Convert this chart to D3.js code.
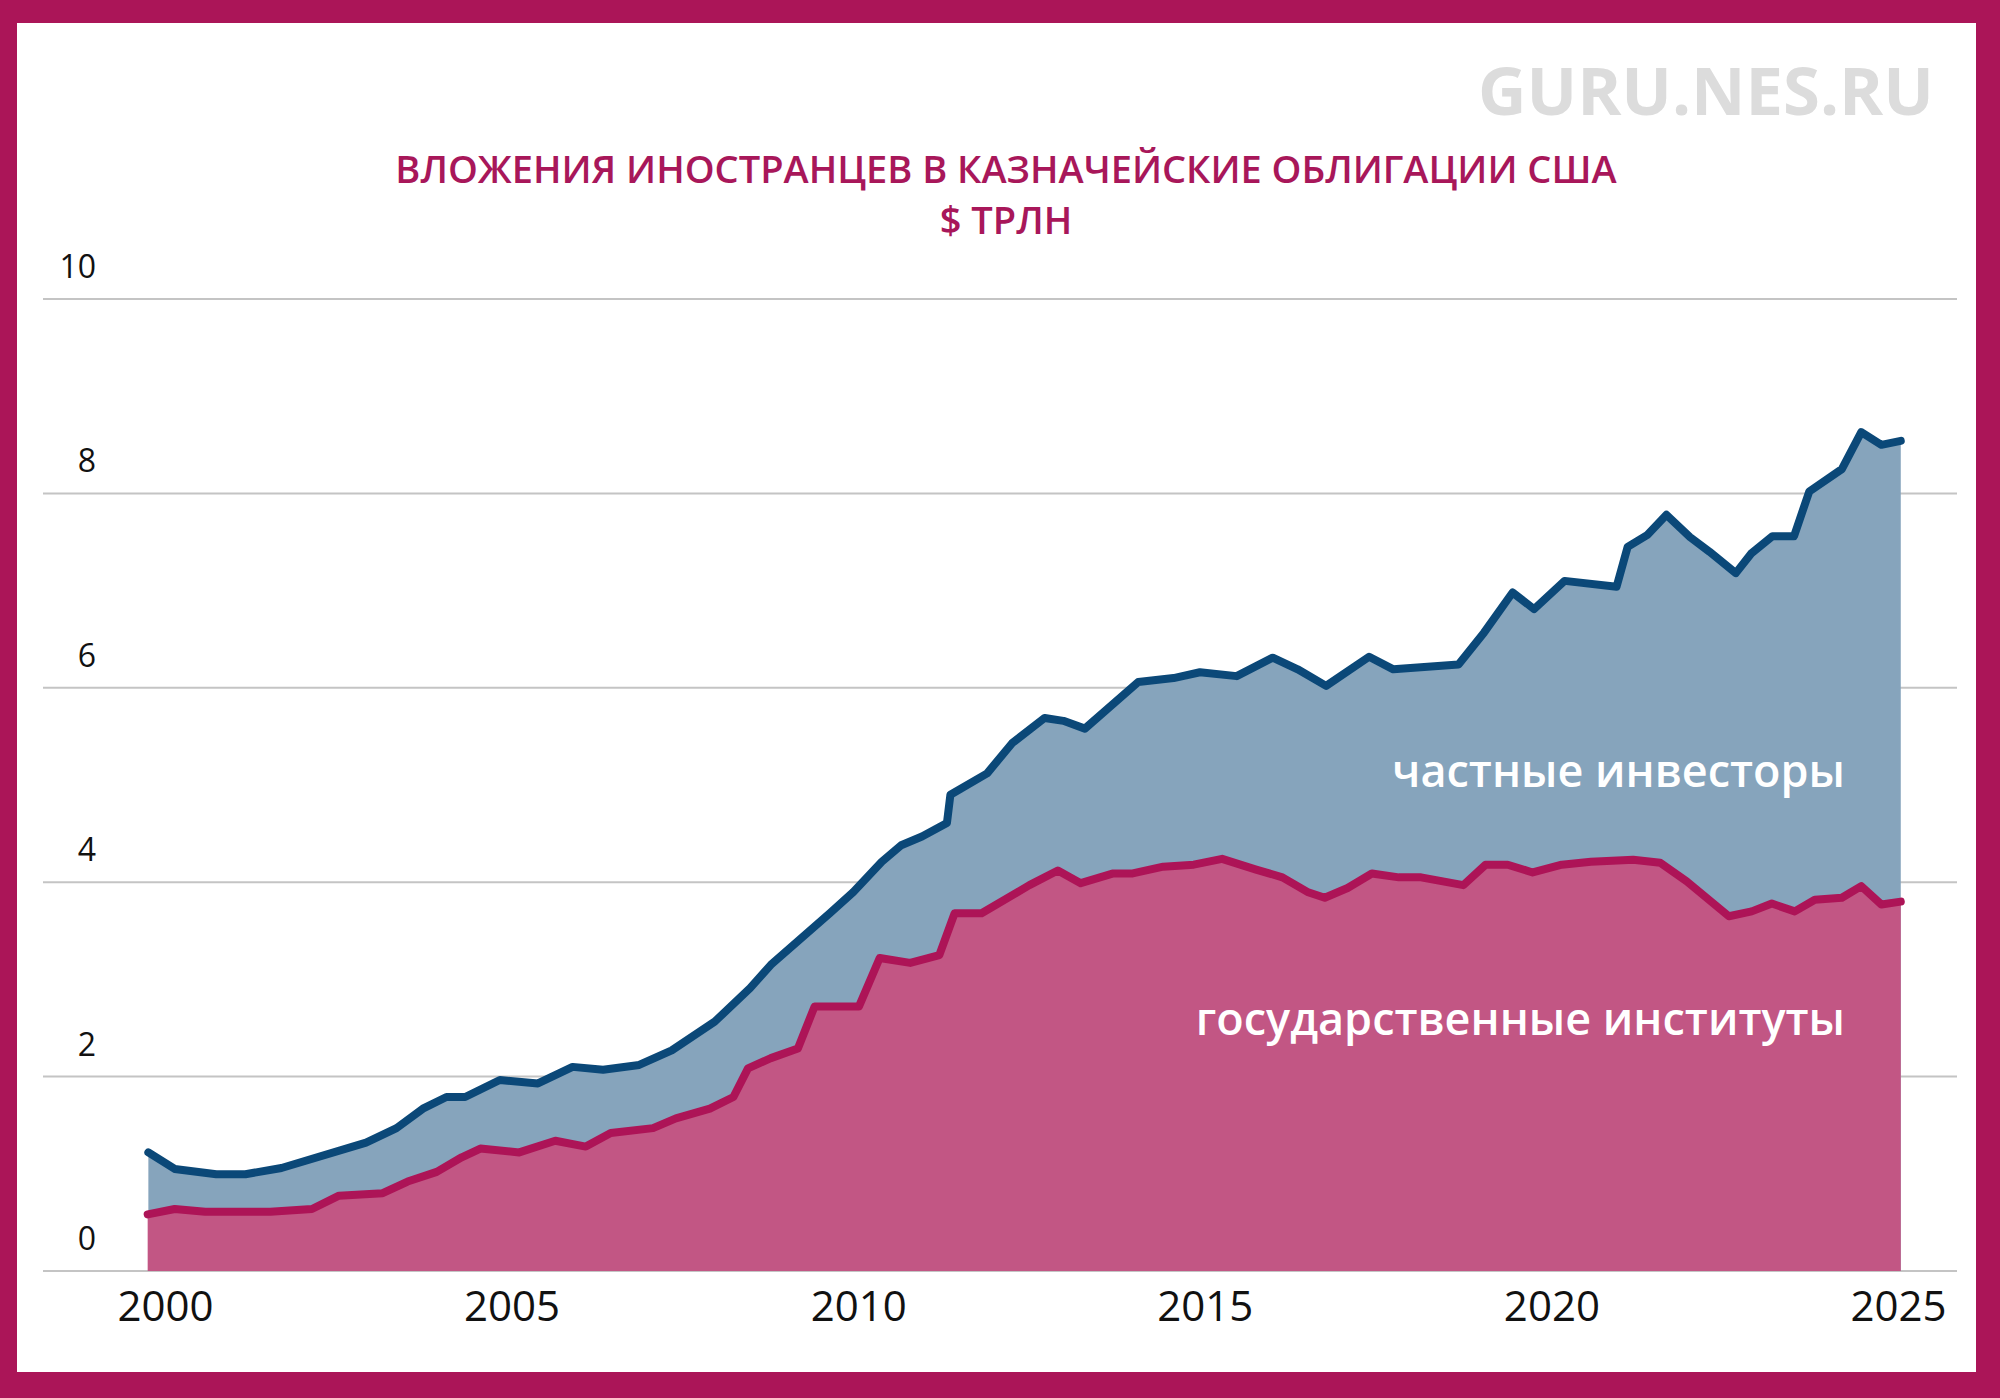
<!DOCTYPE html>
<html>
<head>
<meta charset="utf-8">
<script src="https://cdn.jsdelivr.net/npm/d3@7"></script>
<style>
  html, body { margin: 0; padding: 0; background: #ffffff; }
  svg { display: block; }
  text { font-family: "Open Sans", "Noto Sans", "DejaVu Sans", sans-serif; }
</style>
</head>
<body>
<svg id="chart" width="2000" height="1398"></svg>
<script>
// ---------- DATA ----------
const titleLines = ["ВЛОЖЕНИЯ ИНОСТРАНЦЕВ В КАЗНАЧЕЙСКИЕ ОБЛИГАЦИИ США", "$ ТРЛН"];
const watermark = "GURU.NES.RU";
const seriesNames = ["частные инвесторы", "государственные институты"];

const yTicks = [0, 2, 4, 6, 8, 10];
const xTicks = [2000, 2005, 2010, 2015, 2020, 2025];

// Total holdings (top line), $ trillion
const totalYears = [1999.76, 2000.14, 2000.74, 2001.16, 2001.68, 2002.90, 2003.34, 2003.72, 2004.06, 2004.33,
  2004.83, 2005.38, 2005.88, 2006.32, 2006.84, 2007.31, 2007.93, 2008.44, 2008.74, 2009.59,
  2009.93, 2010.34, 2010.62, 2010.92, 2011.28, 2011.33, 2011.86, 2012.22, 2012.69, 2012.96,
  2013.27, 2014.04, 2014.55, 2014.93, 2015.46, 2015.98, 2016.34, 2016.75, 2017.37, 2017.72,
  2018.66, 2019.03, 2019.44, 2019.75, 2020.19, 2020.94, 2021.10, 2021.38, 2021.66, 2022.00,
  2022.28, 2022.66, 2022.88, 2023.19, 2023.50, 2023.72, 2024.19, 2024.47, 2024.76, 2025.04];
const totalValues = [1.22, 1.05, 0.995, 0.995, 1.06, 1.32, 1.47, 1.67, 1.79, 1.79,
  1.965, 1.93, 2.10, 2.07, 2.12, 2.27, 2.565, 2.91, 3.15, 3.68,
  3.90, 4.21, 4.38, 4.47, 4.61, 4.90, 5.12, 5.43, 5.69, 5.66,
  5.58, 6.06, 6.10, 6.16, 6.12, 6.31, 6.19, 6.02, 6.32, 6.19,
  6.24, 6.57, 6.98, 6.81, 7.10, 7.04, 7.45, 7.57, 7.78, 7.55,
  7.40, 7.18, 7.38, 7.56, 7.56, 8.02, 8.25, 8.63, 8.50, 8.54];

// Official institutions (lower line), $ trillion
const officialYears = [1999.75, 2000.14, 2000.58, 2001.52, 2002.12, 2002.51, 2003.14, 2003.50, 2003.92, 2004.28,
  2004.55, 2005.11, 2005.63, 2006.07, 2006.43, 2007.04, 2007.37, 2007.86, 2008.20, 2008.41,
  2008.74, 2009.13, 2009.37, 2010.01, 2010.31, 2010.75, 2011.17, 2011.39, 2011.78, 2012.47,
  2012.88, 2013.21, 2013.68, 2013.96, 2014.40, 2014.84, 2015.25, 2015.74, 2016.12, 2016.48,
  2016.73, 2017.06, 2017.41, 2017.80, 2018.12, 2018.73, 2019.05, 2019.37, 2019.73, 2020.15,
  2020.57, 2021.18, 2021.57, 2021.95, 2022.56, 2022.89, 2023.18, 2023.51, 2023.80, 2024.19,
  2024.47, 2024.76, 2025.04];
const officialValues = [0.583, 0.638, 0.61, 0.61, 0.638, 0.775, 0.80, 0.92, 1.02, 1.17,
  1.26, 1.22, 1.34, 1.28, 1.42, 1.47, 1.57, 1.67, 1.79, 2.085,
  2.19, 2.29, 2.72, 2.72, 3.22, 3.17, 3.25, 3.68, 3.68, 3.97,
  4.12, 3.99, 4.09, 4.09, 4.16, 4.18, 4.24, 4.13, 4.05, 3.90,
  3.84, 3.94, 4.09, 4.05, 4.05, 3.97, 4.18, 4.18, 4.10, 4.18,
  4.21, 4.23, 4.20, 4.01, 3.65, 3.70, 3.78, 3.70, 3.82, 3.84,
  3.96, 3.77, 3.80];

// ---------- LAYOUT ----------
const W = 2000, H = 1398;
const colors = {
  frame: "#ab1558",
  title: "#a8175a",
  watermark: "#dcdcdc",
  grid: "#c4c4c4",
  totalFill: "#86a4bc",
  officialFill: "#c25684",
  totalLine: "#0b4878",
  officialLine: "#ad1457",
  tickText: "#111111"
};

const svg = d3.select("#chart");

// frame
svg.append("rect").attr("x", 0).attr("y", 0).attr("width", W).attr("height", H).attr("fill", colors.frame);
svg.append("rect").attr("x", 17).attr("y", 23).attr("width", 1959).attr("height", 1349).attr("fill", "#ffffff");

const x = d3.scaleLinear().domain([2000, 2025]).range([165, 1898]);
const y = d3.scaleLinear().domain([0, 10]).range([1271, 299]);

// watermark
svg.append("text")
  .attr("x", 1934).attr("y", 115)
  .attr("text-anchor", "end")
  .attr("font-size", 67).attr("font-weight", 700)
  .attr("fill", colors.watermark)
  .text(watermark);

// title
svg.append("text")
  .attr("x", 1006).attr("y", 183)
  .attr("text-anchor", "middle")
  .attr("font-size", 38).attr("font-weight", 600)
  .attr("fill", colors.title)
  .text(titleLines[0]);
svg.append("text")
  .attr("x", 1006).attr("y", 234)
  .attr("text-anchor", "middle")
  .attr("font-size", 38).attr("font-weight", 600)
  .attr("fill", colors.title)
  .text(titleLines[1]);

// gridlines
const grid = svg.append("g");
grid.selectAll("line").data(yTicks).join("line")
  .attr("x1", 43).attr("x2", 1957)
  .attr("y1", d => y(d)).attr("y2", d => y(d))
  .attr("stroke", colors.grid).attr("stroke-width", 2);

// y tick labels
svg.append("g").selectAll("text").data(yTicks).join("text")
  .attr("x", 96).attr("y", d => y(d) - 21)
  .attr("text-anchor", "end")
  .attr("font-size", 32)
  .attr("fill", colors.tickText)
  .text(d => d);

// x axis labels via d3 axis
const xAxis = d3.axisBottom(x).tickValues(xTicks).tickFormat(d3.format("d")).tickSize(0).tickPadding(0);
const gx = svg.append("g").attr("transform", "translate(0,1321)").call(xAxis);
gx.select(".domain").remove();
gx.selectAll("text")
  .attr("dy", 0).attr("y", 0)
  .attr("font-size", 42)
  .attr("font-family", "'Open Sans', 'Noto Sans', sans-serif")
  .attr("fill", colors.tickText);

// series data
const totalData = totalYears.map((t, i) => ({ t, v: totalValues[i] }));
const officialData = officialYears.map((t, i) => ({ t, v: officialValues[i] }));

const area = d3.area().x(d => x(d.t)).y0(y(0)).y1(d => y(d.v));
const line = d3.line().x(d => x(d.t)).y(d => y(d.v));

svg.append("path").datum(totalData).attr("d", area).attr("fill", colors.totalFill);
svg.append("path").datum(officialData).attr("d", area).attr("fill", colors.officialFill);

svg.append("path").datum(officialData).attr("d", line)
  .attr("fill", "none").attr("stroke", colors.officialLine)
  .attr("stroke-width", 8).attr("stroke-linejoin", "round").attr("stroke-linecap", "round");
svg.append("path").datum(totalData).attr("d", line)
  .attr("fill", "none").attr("stroke", colors.totalLine)
  .attr("stroke-width", 8).attr("stroke-linejoin", "round").attr("stroke-linecap", "round");

// series labels
svg.append("text")
  .attr("x", 1845).attr("y", 787)
  .attr("text-anchor", "end")
  .attr("font-size", 45).attr("font-weight", 600)
  .attr("fill", "#ffffff")
  .text(seriesNames[0]);
svg.append("text")
  .attr("x", 1845).attr("y", 1035)
  .attr("text-anchor", "end")
  .attr("font-size", 45).attr("font-weight", 600)
  .attr("fill", "#ffffff")
  .text(seriesNames[1]);
</script>
</body>
</html>
